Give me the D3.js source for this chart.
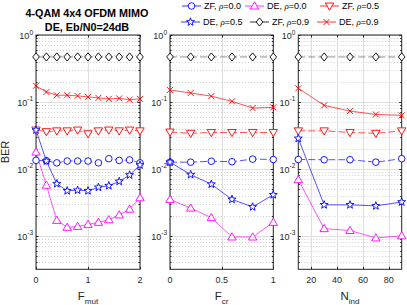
<!DOCTYPE html>
<html>
<head>
<meta charset="UTF-8">
<title>BER vs parameters</title>
<script src="https://cdn.jsdelivr.net/npm/d3@7"></script>
<style>
body { margin:0; background:#fff; }
svg text { font-family: "Liberation Sans", Arial, sans-serif; fill:#262626; }
.grid-major { stroke:#dedede; stroke-width:1; }
.grid-minor { stroke:#d0d0d0; stroke-width:1; stroke-dasharray:1,2; }
.frame { fill:none; stroke:#262626; stroke-width:1; }
</style>
</head>
<body>
<svg id="chart" width="407" height="305"></svg>
<script>
// x values for each panel
var fmut = [0, 0.2, 0.4, 0.6, 0.8, 1.0, 1.2, 1.4, 1.6, 1.8, 2.0];
var fcr  = [0, 0.2, 0.4, 0.6, 0.8, 1.0];
var nind = [10, 30, 50, 70, 90];

// BER, panel F_mut
var mut_zf00 = [0.0134, 0.0132, 0.0123, 0.0131, 0.0131, 0.0131, 0.0123, 0.0142, 0.0134, 0.0136, 0.0123];
var mut_de00 = [0.0178, 0.0057, 0.0017, 0.00134, 0.00138, 0.00148, 0.00159, 0.00174, 0.00205, 0.0025, 0.0037];
var mut_zf05 = [0.038, 0.036, 0.037, 0.037, 0.038, 0.0335, 0.037, 0.038, 0.037, 0.038, 0.037];
var mut_de05 = [0.038, 0.0131, 0.0060, 0.0047, 0.0048, 0.0047, 0.0053, 0.0056, 0.0065, 0.0081, 0.0114];
var mut_zf09 = [0.47, 0.47, 0.47, 0.47, 0.47, 0.47, 0.47, 0.47, 0.47, 0.47, 0.47];
var mut_de09 = [0.174, 0.141, 0.126, 0.126, 0.123, 0.119, 0.115, 0.111, 0.113, 0.108, 0.111];

// panel F_cr
var cr_zf00 = [0.0126, 0.0126, 0.013, 0.0128, 0.014, 0.0138];
var cr_de00 = [0.0035, 0.0026, 0.00187, 0.00096, 0.00096, 0.00159];
var cr_zf05 = [0.0355, 0.034, 0.035, 0.035, 0.035, 0.035];
var cr_de05 = [0.0126, 0.0082, 0.0059, 0.0035, 0.0027, 0.0041];
var cr_zf09 = [0.47, 0.47, 0.47, 0.47, 0.47, 0.47];
var cr_de09 = [0.151, 0.136, 0.122, 0.102, 0.081, 0.083];

// panel N_ind
var ind_zf00 = [0.0138, 0.0137, 0.0137, 0.0126, 0.0142];
var ind_de00 = [0.0069, 0.00128, 0.0012, 0.00093, 0.001];
var ind_zf05 = [0.037, 0.037, 0.035, 0.034, 0.037];
var ind_de05 = [0.0285, 0.0029, 0.0029, 0.0028, 0.0032];
var ind_zf09 = [0.47, 0.47, 0.47, 0.47, 0.47];
var ind_de09 = [0.16, 0.089, 0.073, 0.065, 0.063];

var seriesNames = [["ZF", "0.0"], ["DE", "0.0"], ["ZF", "0.5"], ["DE", "0.5"], ["ZF", "0.9"], ["DE", "0.9"]];
var colors  = ["#0000ff", "#ff00ff", "#ff0000", "#0000ff", "#000000", "#ff0000"];
var markers = ["o", "^", "v", "p", "d", "x"];
var dashed  = [true, false, true, false, true, false];

var yTicks = [1e-3, 1e-2, 1e-1, 1];
var yTickExp = ["-3", "-2", "-1", "0"];

var panels = [
  {x: fmut, ys: [mut_zf00, mut_de00, mut_zf05, mut_de05, mut_zf09, mut_de09], dom: [0, 2], ticks: [0, 1, 2], fmt: d3.format("d"), lab: "F", sub: "mut", left: 36, right: 140},
  {x: fcr, ys: [cr_zf00, cr_de00, cr_zf05, cr_de05, cr_zf09, cr_de09], dom: [0, 1], ticks: [0, 0.5, 1], fmt: function(d){ return d === 0.5 ? "0.5" : String(d); }, lab: "F", sub: "cr", left: 170, right: 273.3},
  {x: nind, ys: [ind_zf00, ind_de00, ind_zf05, ind_de05, ind_zf09, ind_de09], dom: [10, 90], ticks: [20, 40, 60, 80], fmt: d3.format("d"), lab: "N", sub: "ind", left: 298.3, right: 401.7}
];

var yTop = 35, yBottom = 269.3;
var svg = d3.select("#chart");
var y = d3.scaleLog().domain([Math.pow(10, -3.5), 1]).range([yBottom, yTop]);

function markerPath(type) {
  var p = d3.path();
  if (type === "o") { p.moveTo(3.3, 0); p.arc(0, 0, 3.3, 0, 2 * Math.PI); }
  else if (type === "^") { p.moveTo(0, -4.2); p.lineTo(4.2, 3); p.lineTo(-4.2, 3); p.closePath(); }
  else if (type === "v") { p.moveTo(0, 4.2); p.lineTo(4.2, -3); p.lineTo(-4.2, -3); p.closePath(); }
  else if (type === "d") { p.moveTo(0, -4.1); p.lineTo(3.3, 0); p.lineTo(0, 4.1); p.lineTo(-3.3, 0); p.closePath(); }
  else if (type === "x") { p.moveTo(-3, -3); p.lineTo(3, 3); p.moveTo(3, -3); p.lineTo(-3, 3); }
  else if (type === "p") {
    for (var i = 0; i < 10; i++) {
      var r = i % 2 ? 1.7 : 4.2, a = -Math.PI / 2 + i * Math.PI / 5;
      if (i === 0) p.moveTo(r * Math.cos(a), r * Math.sin(a)); else p.lineTo(r * Math.cos(a), r * Math.sin(a));
    }
    p.closePath();
  }
  return p.toString();
}

function tickLabel(g, x, yy, exp, anchor) {
  var t = g.append("text").attr("x", x).attr("y", yy).attr("text-anchor", anchor).style("font-size", "9px");
  t.append("tspan").text("10");
  t.append("tspan").attr("dy", -4.5).style("font-size", "6.5px").text(exp);
}

panels.forEach(function(pn) {
  var x = d3.scaleLinear().domain(pn.dom).range([pn.left, pn.right]);
  var g = svg.append("g");

  // minor grid on log axis
  var minors = [];
  for (var e = -4; e < 0; e++) for (var k = 2; k <= 9; k++) {
    var v = k * Math.pow(10, e);
    if (v >= y.domain()[0] && v < 1) minors.push(v);
  }
  g.selectAll(".grid-minor").data(minors).enter().append("line").attr("class", "grid-minor")
    .attr("x1", pn.left).attr("x2", pn.right).attr("y1", function(d){ return Math.round(y(d)) + 0.5; }).attr("y2", function(d){ return Math.round(y(d)) + 0.5; });
  g.selectAll(".gmy").data(yTicks).enter().append("line").attr("class", "grid-major")
    .attr("x1", pn.left).attr("x2", pn.right).attr("y1", function(d){ return Math.round(y(d)) + 0.5; }).attr("y2", function(d){ return Math.round(y(d)) + 0.5; });
  g.selectAll(".gmx").data(pn.ticks).enter().append("line").attr("class", "grid-major")
    .attr("x1", function(d){ return Math.round(x(d)) + 0.5; }).attr("x2", function(d){ return Math.round(x(d)) + 0.5; }).attr("y1", yTop).attr("y2", yBottom);

  // frame and ticks
  g.append("rect").attr("class", "frame").attr("x", pn.left).attr("y", yTop).attr("width", pn.right - pn.left).attr("height", yBottom - yTop);
  pn.ticks.forEach(function(d) {
    var xx = Math.round(x(d)) + 0.5;
    g.append("line").attr("x1", xx).attr("x2", xx).attr("y1", yBottom).attr("y2", yBottom - 2.5).attr("stroke", "#262626");
    g.append("line").attr("x1", xx).attr("x2", xx).attr("y1", yTop).attr("y2", yTop + 2.5).attr("stroke", "#262626");
    g.append("text").attr("x", x(d)).attr("y", 282.5).attr("text-anchor", "middle").style("font-size", "9px").text(pn.fmt(d));
  });
  minors.concat(yTicks).forEach(function(d) {
    var yy = Math.round(y(d)) + 0.5, len = yTicks.indexOf(d) >= 0 ? 2.5 : 1.5;
    g.append("line").attr("x1", pn.left).attr("x2", pn.left + len).attr("y1", yy).attr("y2", yy).attr("stroke", "#262626");
    g.append("line").attr("x1", pn.right).attr("x2", pn.right - len).attr("y1", yy).attr("y2", yy).attr("stroke", "#262626");
  });
  yTicks.forEach(function(d, i) { tickLabel(g, pn.left - 3, y(d) + 4, yTickExp[i], "end"); });

  // x label with subscript
  var xl = g.append("text").attr("x", (pn.left + pn.right) / 2).attr("y", 300).attr("text-anchor", "middle").style("font-size", "11.5px");
  xl.append("tspan").text(pn.lab);
  xl.append("tspan").attr("dy", 4).style("font-size", "8px").text(pn.sub);

  // series
  var line = d3.line().x(function(d){ return x(d[0]); }).y(function(d){ return y(d[1]); });
  pn.ys.forEach(function(vals, s) {
    var pts = vals.map(function(v, i){ return [pn.x[i], v]; });
    g.append("path").attr("d", line(pts)).attr("fill", "none").attr("stroke", colors[s]).attr("stroke-width", 0.8)
      .attr("stroke-opacity", s === 4 ? 0.55 : 0.85)
      .attr("stroke-dasharray", dashed[s] ? "7,3" : null);
  });
  pn.ys.forEach(function(vals, s) {
    g.selectAll(null).data(vals).enter().append("path")
      .attr("d", markerPath(markers[s]))
      .attr("transform", function(v, i){ return "translate(" + x(pn.x[i]) + "," + y(v) + ")"; })
      .attr("fill", markers[s] === "x" ? "none" : "#fff").attr("stroke", colors[s]).attr("stroke-width", 0.9);
  });
});

// y label
svg.append("text").attr("transform", "translate(8.5,152) rotate(-90)").attr("text-anchor", "middle").style("font-size", "11px").text("BER");

// title
var title = ["4-QAM 4x4 OFDM MIMO", "DE, Eb/N0=24dB"];
svg.selectAll(".title").data(title).enter().append("text").attr("class", "title")
  .attr("x", 87).attr("y", function(d, i){ return 16.5 + i * 14; })
  .attr("text-anchor", "middle").style("font-size", "10.8px").style("font-weight", "bold").style("fill", "#000").text(function(d){ return d; });

// legend
var legX = [204, 267, 342, 203, 272, 339], legY = [6, 22];
seriesNames.forEach(function(nm, s) {
  var tx = legX[s], ty = legY[Math.floor(s / 3)];
  var lg = svg.append("g");
  lg.append("line").attr("x1", tx - 22).attr("x2", tx - 3).attr("y1", ty).attr("y2", ty).attr("stroke", colors[s]).attr("stroke-width", 0.8);
  lg.append("path").attr("d", markerPath(markers[s])).attr("transform", "translate(" + (tx - 12.5) + "," + ty + ")")
    .attr("fill", markers[s] === "x" ? "none" : "#fff").attr("stroke", colors[s]).attr("stroke-width", 0.9);
  var t = lg.append("text").attr("x", tx).attr("y", ty + 3.3).style("font-size", "9px").style("fill", "#000");
  t.append("tspan").text(nm[0] + ", ");
  t.append("tspan").style("font-style", "italic").style("font-family", "'Liberation Serif', serif").text("\u03c1");
  t.append("tspan").text("=" + nm[1]);
});
</script>
</body>
</html>
